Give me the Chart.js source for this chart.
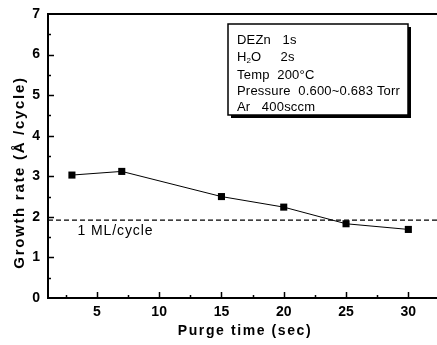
<!DOCTYPE html>
<html><head><meta charset="utf-8">
<script src="https://cdn.jsdelivr.net/npm/chart.js@4/dist/chart.umd.min.js"></script>
<style>html,body{margin:0;padding:0;background:#fff}#w{width:437px;height:345px}</style>
</head><body><div id="w"><canvas id="c" width="437" height="345"></canvas></div>
<script>
const purgeTime = [3, 7, 15, 20, 25, 30];
const growthRate = [3.03, 3.12, 2.50, 2.24, 1.83, 1.69];
const monolayerRate = 1.92;
const xTicks = [5, 10, 15, 20, 25, 30];
const yTicks = [0, 1, 2, 3, 4, 5, 6, 7];
const infoLines = ["DEZn   1s", "H2O    2s", "Temp  200°C", "Pressure  0.600~0.683 Torr", "Ar   400sccm"];
const mlLabel = "1 ML/cycle";
const xTitle = "Purge time (sec)";
const yTitle = "Growth rate (Å /cycle)";
const xMin = 1.08, xMax = 32.3;

const FONT = '"Liberation Sans", Arial, sans-serif';

const decor = {
  id: 'decor',
  afterDraw(chart) {
    const ctx = chart.ctx, x = chart.scales.x, y = chart.scales.y, a = chart.chartArea;
    ctx.save();
    ctx.strokeStyle = '#000';
    // top border
    ctx.lineWidth = 2;
    ctx.beginPath(); ctx.moveTo(a.left, a.top); ctx.lineTo(a.right, a.top); ctx.stroke();
    // ticks inward
    ctx.lineWidth = 1.5;
    for (let v = 2.5; v <= 32; v += 2.5) {
      const px = Math.round(x.getPixelForValue(v)) + 0.5;
      const len = (v % 5 === 0) ? 6 : 3;
      ctx.beginPath(); ctx.moveTo(px, a.bottom); ctx.lineTo(px, a.bottom - len); ctx.stroke();
    }
    for (let v = 0.5; v < 7; v += 0.5) {
      const py = Math.round(y.getPixelForValue(v)) + 0.5;
      const len = (v % 1 === 0) ? 6 : 3;
      ctx.beginPath(); ctx.moveTo(a.left, py); ctx.lineTo(a.left + len, py); ctx.stroke();
    }
    ctx.fillStyle = '#000';
    // axis titles
    ctx.font = 'bold 14px ' + FONT;
    ctx.letterSpacing = '1.6px';
    ctx.textAlign = 'center';
    ctx.textBaseline = 'alphabetic';
    ctx.fillText(xTitle, 245, 335);
    ctx.save();
    ctx.translate(24, 172.5);
    ctx.rotate(-Math.PI / 2);
    ctx.font = 'bold 15px ' + FONT;
    ctx.letterSpacing = '1.7px';
    ctx.fillText(yTitle, 0, 0);
    ctx.restore();
    // ML label
    ctx.font = '14px ' + FONT;
    ctx.letterSpacing = '0.9px';
    ctx.textBaseline = 'middle';
    ctx.textAlign = 'left';
    ctx.fillText(mlLabel, x.getPixelForValue(3.45), y.getPixelForValue(monolayerRate) + 11);
    // info box
    const bx = 228, by = 24, bw = 180, bh = 91;
    ctx.fillStyle = '#000';
    ctx.fillRect(bx + 3, by + 3, bw, bh);
    ctx.fillStyle = '#fff';
    ctx.fillRect(bx, by, bw, bh);
    ctx.lineWidth = 1.5;
    ctx.strokeRect(bx, by, bw, bh);
    ctx.fillStyle = '#000';
    ctx.letterSpacing = '0.2px';
    const f = '13px ' + FONT;
    ctx.font = f;
    const ys = [40, 57, 75, 91, 107];
    infoLines.forEach((t, i) => {
      if (t.startsWith('H2O')) {
        ctx.fillText('H', 237, ys[i]);
        const wH = ctx.measureText('H').width;
        ctx.font = '8px ' + FONT;
        ctx.fillText('2', 237 + wH, ys[i] + 4);
        ctx.font = f;
        ctx.fillText('O     2s', 237 + wH + 4.5, ys[i]);
      } else {
        ctx.fillText(t, 237, ys[i]);
      }
    });
    ctx.restore();
  }
};

new Chart(document.getElementById('c'), {
  type: 'scatter',
  data: {
    datasets: [
      {
        data: purgeTime.map((t, i) => ({x: t, y: growthRate[i]})),
        showLine: true, borderColor: '#000', borderWidth: 1,
        pointStyle: 'rect', pointRadius: 5, pointBackgroundColor: '#000', pointBorderColor: '#000', pointBorderWidth: 0
      },
      {
        data: [{x: xMin, y: monolayerRate}, {x: xMax, y: monolayerRate}],
        showLine: true, borderColor: '#000', borderWidth: 1.2, borderDash: [5, 3], pointRadius: 0
      }
    ]
  },
  options: {
    responsive: false, animation: false, devicePixelRatio: 1,
    layout: {autoPadding: false, padding: {top: 14, right: 0, left: 0, bottom: 0}},
    plugins: {legend: {display: false}, tooltip: {enabled: false}},
    scales: {
      x: {
        type: 'linear', min: xMin, max: xMax,
        afterFit(s) { s.height = 47; s.paddingLeft = 0; s.paddingRight = 0; },
        afterBuildTicks(s) { s.ticks = xTicks.map(v => ({value: v})); },
        grid: {display: false, drawTicks: false},
        border: {display: true, color: '#000', width: 2},
        ticks: {color: '#000', padding: 6, font: {family: FONT, size: 14, weight: 'bold'}}
      },
      y: {
        type: 'linear', min: 0, max: 7,
        afterFit(s) { s.width = 48; s.paddingTop = 0; s.paddingBottom = 0; },
        afterBuildTicks(s) { s.ticks = yTicks.map(v => ({value: v})); },
        grid: {display: false, drawTicks: false},
        border: {display: true, color: '#000', width: 2},
        ticks: {color: '#000', padding: 8, font: {family: FONT, size: 14, weight: 'bold'}}
      }
    }
  },
  plugins: [decor]
});
</script></body></html>
